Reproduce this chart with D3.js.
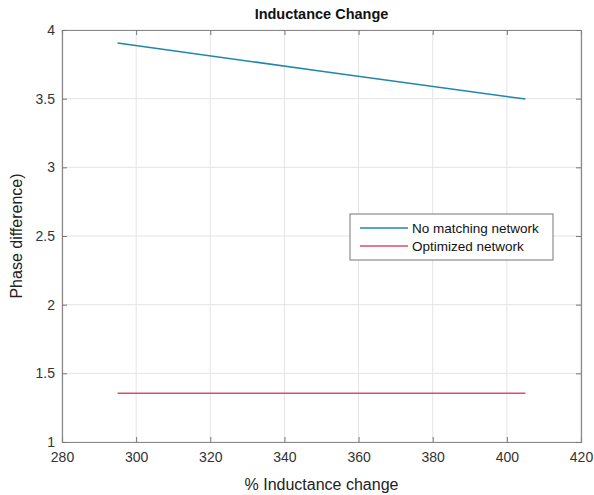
<!DOCTYPE html>
<html>
<head>
<meta charset="UTF-8" />
<script src="https://d3js.org/d3.v7.min.js"></script>
<style>
  body { margin: 0; background: #fff; }
  text { font-family: "Liberation Sans", Arial, sans-serif; }
</style>
</head>
<body>
<svg id="chart" width="594" height="495"></svg>
<script>
  // data
  const inductance = [295, 350, 405];
  const noMatching = [3.905, 3.70, 3.497];
  const optimized = [1.355, 1.355, 1.355];
  const seriesNames = ["No matching network", "Optimized network"];
  const seriesColors = ["#1f86b0", "#d94f6a"];
  const xTicks = [280, 300, 320, 340, 360, 380, 400, 420];
  const yTicks = [1, 1.5, 2, 2.5, 3, 3.5, 4];

  const svg = d3.select("#chart");
  const plotLeft = 62, plotRight = 581, plotTop = 30, plotBottom = 442;

  const x = d3.scaleLinear().domain([280, 420]).range([plotLeft, plotRight]);
  const y = d3.scaleLinear().domain([1, 4]).range([plotBottom, plotTop]);

  // grid
  svg.append("g").selectAll("line").data(xTicks).enter().append("line")
    .attr("x1", d => x(d)).attr("x2", d => x(d))
    .attr("y1", plotTop).attr("y2", plotBottom)
    .attr("stroke", "#e4e4e4");
  svg.append("g").selectAll("line").data(yTicks).enter().append("line")
    .attr("x1", plotLeft).attr("x2", plotRight)
    .attr("y1", d => y(d)).attr("y2", d => y(d))
    .attr("stroke", "#e4e4e4");

  // lines
  const series = [noMatching, optimized];
  const line = d3.line().x(d => x(d[0])).y(d => y(d[1]));
  series.forEach((vals, i) => {
    svg.append("path")
      .datum(inductance.map((v, j) => [v, vals[j]]))
      .attr("fill", "none")
      .attr("stroke", seriesColors[i])
      .attr("stroke-width", 1.5)
      .attr("d", line);
  });

  // axes (inward ticks)
  const xAxis = svg.append("g").attr("transform", `translate(0,${plotBottom})`)
    .call(d3.axisBottom(x).tickValues(xTicks).tickSize(-5).tickPadding(10));
  const xAxisTop = svg.append("g").attr("transform", `translate(0,${plotTop})`)
    .call(d3.axisTop(x).tickValues(xTicks).tickSize(-5).tickFormat(""));
  const yAxis = svg.append("g").attr("transform", `translate(${plotLeft},0)`)
    .call(d3.axisLeft(y).tickValues(yTicks).tickSize(-5).tickPadding(7).tickFormat(d3.format("")));
  const yAxisRight = svg.append("g").attr("transform", `translate(${plotRight},0)`)
    .call(d3.axisRight(y).tickValues(yTicks).tickSize(-5).tickFormat(""));

  [xAxis, xAxisTop, yAxis, yAxisRight].forEach(g => {
    g.select(".domain").attr("stroke", "#888").attr("stroke-width", 1.2);
    g.selectAll(".tick line").attr("stroke", "#777");
    g.selectAll("text").attr("fill", "#333").style("font-size", "14px");
  });

  // title and labels
  svg.append("text").attr("x", (plotLeft + plotRight) / 2).attr("y", 19)
    .attr("text-anchor", "middle").style("font-size", "14.5px").style("font-weight", "bold")
    .attr("fill", "#111").text("Inductance Change");
  svg.append("text").attr("x", (plotLeft + plotRight) / 2).attr("y", 490)
    .attr("text-anchor", "middle").style("font-size", "16px").attr("fill", "#222")
    .text("% Inductance change");
  svg.append("text").attr("transform", `translate(22,${(plotTop + plotBottom) / 2}) rotate(-90)`)
    .attr("text-anchor", "middle").style("font-size", "16px").attr("fill", "#222")
    .text("Phase difference)");

  // legend
  const lg = svg.append("g").attr("transform", "translate(350,214)");
  lg.append("rect").attr("width", 203).attr("height", 46)
    .attr("fill", "#fff").attr("stroke", "#777");
  seriesNames.forEach((name, i) => {
    lg.append("line").attr("x1", 10).attr("x2", 58)
      .attr("y1", 14 + i * 18).attr("y2", 14 + i * 18)
      .attr("stroke", seriesColors[i]).attr("stroke-width", 1.5);
    lg.append("text").attr("x", 62).attr("y", 19 + i * 18)
      .style("font-size", "13.5px").attr("fill", "#111").text(name);
  });
</script>
</body>
</html>
